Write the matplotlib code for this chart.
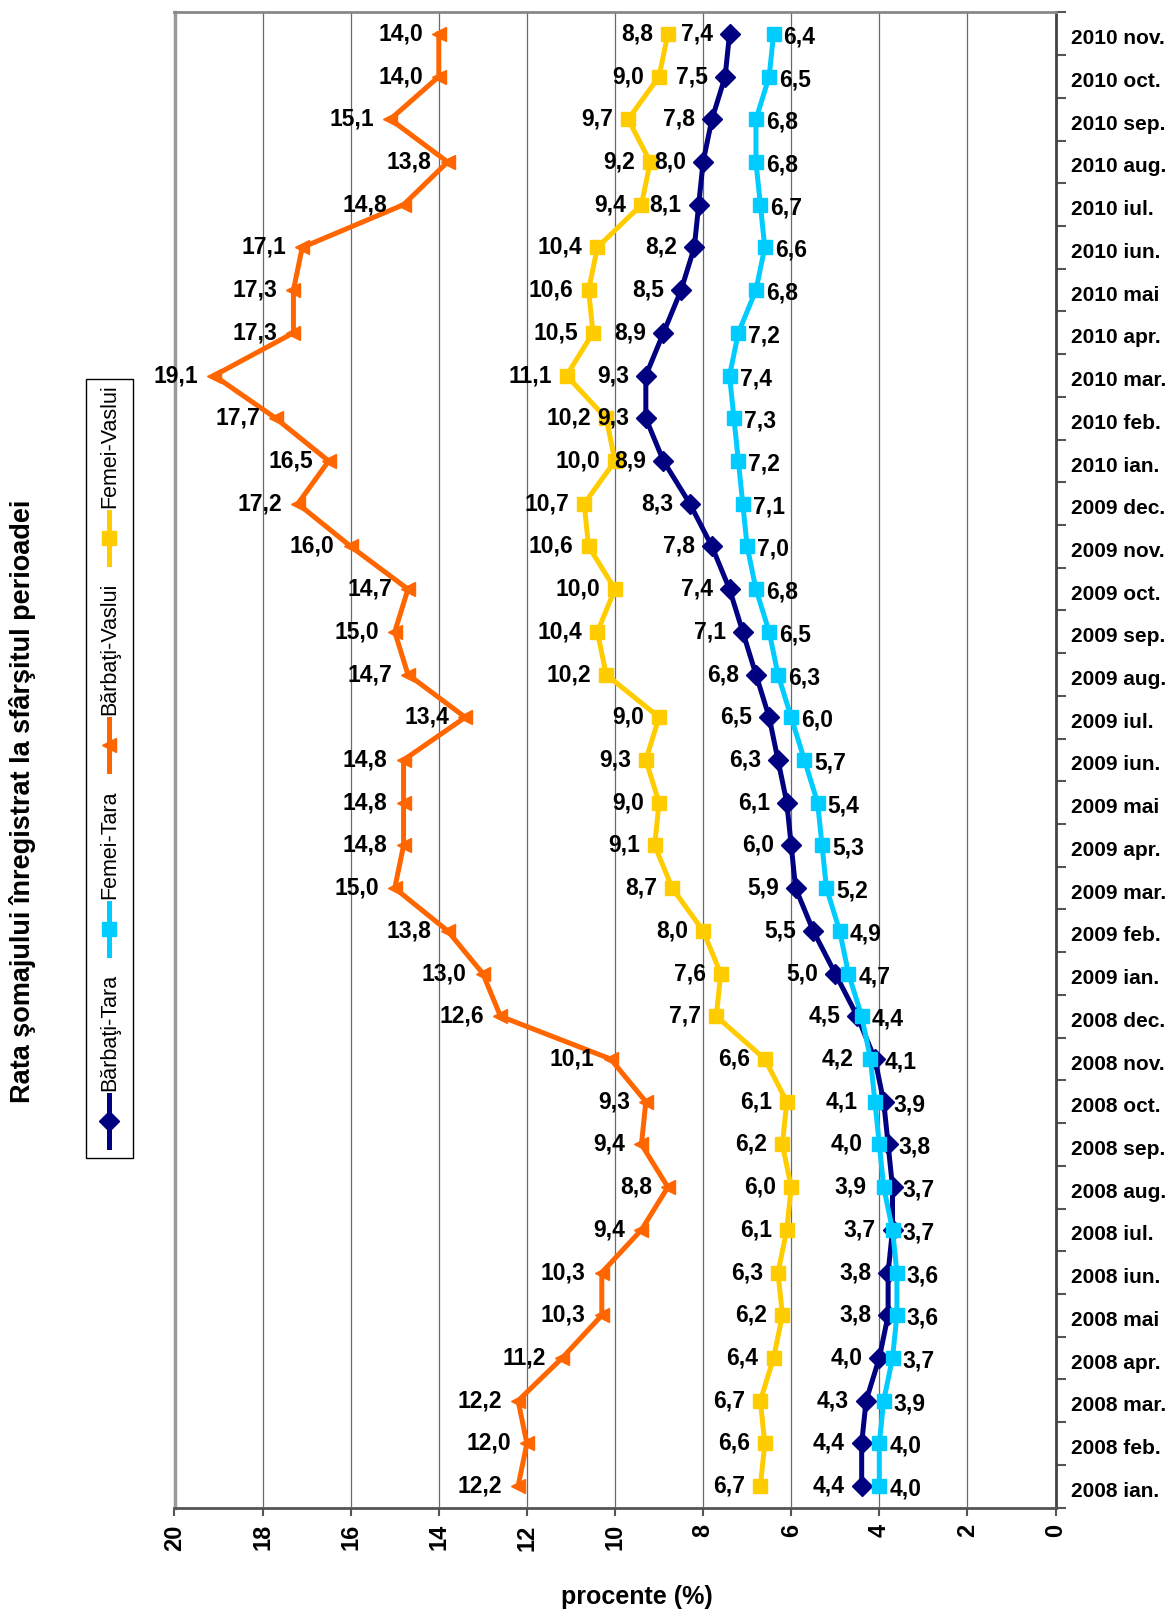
import numpy as np
import matplotlib
matplotlib.use("Agg")
import matplotlib.pyplot as plt
import matplotlib.transforms as mtransforms
from matplotlib.lines import Line2D
from matplotlib.patches import Rectangle

plt.rcParams['font.family'] = ['Liberation Sans', 'DejaVu Sans']

# data: 2008 ian. -> 2010 nov.
years = ["2008", "2009", "2010"]
month_names = ["ian.", "feb.", "mar.", "apr.", "mai", "iun.",
               "iul.", "aug.", "sep.", "oct.", "nov.", "dec."]
months = [f"{y} {m}" for y in years for m in month_names][:35]

barbati_tara = [4.4, 4.4, 4.3, 4.0, 3.8, 3.8, 3.7, 3.7, 3.8, 3.9, 4.1, 4.5,
                5.0, 5.5, 5.9, 6.0, 6.1, 6.3, 6.5, 6.8, 7.1, 7.4, 7.8, 8.3,
                8.9, 9.3, 9.3, 8.9, 8.5, 8.2, 8.1, 8.0, 7.8, 7.5, 7.4]
femei_tara = [4.0, 4.0, 3.9, 3.7, 3.6, 3.6, 3.7, 3.9, 4.0, 4.1, 4.2, 4.4,
              4.7, 4.9, 5.2, 5.3, 5.4, 5.7, 6.0, 6.3, 6.5, 6.8, 7.0, 7.1,
              7.2, 7.3, 7.4, 7.2, 6.8, 6.6, 6.7, 6.8, 6.8, 6.5, 6.4]
barbati_vaslui = [12.2, 12.0, 12.2, 11.2, 10.3, 10.3, 9.4, 8.8, 9.4, 9.3, 10.1, 12.6,
                  13.0, 13.8, 15.0, 14.8, 14.8, 14.8, 13.4, 14.7, 15.0, 14.7, 16.0, 17.2,
                  16.5, 17.7, 19.1, 17.3, 17.3, 17.1, 14.8, 13.8, 15.1, 14.0, 14.0]
femei_vaslui = [6.7, 6.6, 6.7, 6.4, 6.2, 6.3, 6.1, 6.0, 6.2, 6.1, 6.6, 7.7,
                7.6, 8.0, 8.7, 9.1, 9.0, 9.3, 9.0, 10.2, 10.4, 10.0, 10.6, 10.7,
                10.0, 10.2, 11.1, 10.5, 10.6, 10.4, 9.4, 9.2, 9.7, 9.0, 8.8]

series = [
    ("Bărbaţi-Tara", barbati_tara, "#000080", "D", 10.5),
    ("Femei-Tara", femei_tara, "#00CCFF", "s", 10.5),
    ("Bărbaţi-Vaslui", barbati_vaslui, "#FF6600", "<", 10.5),
    ("Femei-Vaslui", femei_vaslui, "#FFCC00", "s", 10.5),
]

W, H = 1175, 1610
fig = plt.figure(figsize=(W / 100, H / 100), dpi=100)


def fx(px):
    return px / W


def fy(py):
    return 1 - py / H


ax = fig.add_axes([fx(174.5), fy(1507.5), (1055.5 - 174.5) / W, (1507.5 - 12.5) / H])
pos = np.arange(len(months))

for name, vals, color, marker, ms in series:
    ax.plot(vals, pos, color=color, lw=3.6, marker=marker, ms=ms,
            markeredgecolor=color, zorder=3)


def fmt(v):
    return f"{v:.1f}".replace(".", ",")


lbl = dict(fontsize=16.5, fontweight='bold', color='black', zorder=5,
           textcoords='offset pixels', va='center')

for i in pos:
    ax.annotate(fmt(barbati_vaslui[i]), (barbati_vaslui[i], i), xytext=(-16, 0), ha='right', **lbl)
    ax.annotate(fmt(femei_vaslui[i]), (femei_vaslui[i], i), xytext=(-15, 0), ha='right', **lbl)
    # larger of the two national values gets its label on the left
    if barbati_tara[i] >= femei_tara[i]:
        left, right = barbati_tara[i], femei_tara[i]
    else:
        left, right = femei_tara[i], barbati_tara[i]
    ax.annotate(fmt(left), (left, i), xytext=(-17, 0), ha='right', **lbl)
    ax.annotate(fmt(right), (right, i), xytext=(10, -3), ha='left', **lbl)

ax.set_xlim(20, 0)
ax.set_ylim(-0.5, len(months) - 0.5)
ax.set_xticks(range(0, 21, 2))
ax.set_xticklabels([str(v) for v in range(0, 21, 2)], rotation=90,
                   fontsize=17, fontweight='bold')
ax.xaxis.grid(True, color='#6a6a6a', lw=0.9, zorder=0)
ax.set_axisbelow(True)
ax.tick_params(axis='x', direction='out', length=6, width=1.5, color='#555555', pad=6)

ax.yaxis.tick_right()
ax.set_yticks(np.arange(-0.5, len(months), 1))
ax.set_yticklabels([])
ax.set_yticks(pos, minor=True)
ax.set_yticklabels(months, minor=True, fontsize=15, fontweight='bold')
ax.tick_params(axis='y', which='major', direction='out', length=7, width=1.5, color='#555555')
ax.tick_params(axis='y', which='minor', length=0, pad=11)
shift = mtransforms.ScaledTranslation(0, -3 / 100, fig.dpi_scale_trans)
for t in ax.get_yticklabels(minor=True):
    t.set_transform(t.get_transform() + shift)

ax.spines['left'].set_color('#999999')
ax.spines['left'].set_linewidth(2.5)
ax.spines['top'].set_color('#888888')
ax.spines['top'].set_linewidth(2)
ax.spines['bottom'].set_color('#555555')
ax.spines['bottom'].set_linewidth(2)
ax.spines['right'].set_color('#444444')
ax.spines['right'].set_linewidth(2)

fig.text(fx(23), fy(801), "Rata şomajului înregistrat la sfârşitul perioadei",
         rotation=90, ha='center', va='center', fontsize=19.5, fontweight='bold')
fig.text(fx(637), fy(1597), "procente (%)", ha='center', va='center',
         fontsize=18, fontweight='bold')

# legend drawn by hand, rotated like the rest of the chart
renderer = fig.canvas.get_renderer()
y0 = 1147
top = y0
for name, vals, color, marker, ms in series:
    fig.add_artist(Line2D([fx(109), fx(109)], [fy(y0), fy(y0 - 52)], color=color, lw=3.6))
    fig.add_artist(Line2D([fx(109)], [fy(y0 - 26)], color=color, marker=marker, ms=ms,
                          markeredgecolor=color, linestyle='none'))
    t = fig.text(fx(110), fy(y0 - 56), name, rotation=90, ha='center', va='bottom', fontsize=15.5)
    bb = t.get_window_extent(renderer)
    top = H - bb.y1
    y0 = top - 19

fig.add_artist(Rectangle((fx(86), fy(1157.5)), (132.5 - 86) / W, (1157.5 - (top - 5)) / H,
                         transform=fig.transFigure, fill=False, ec='black', lw=1))

fig.savefig("out.png", dpi=100)
